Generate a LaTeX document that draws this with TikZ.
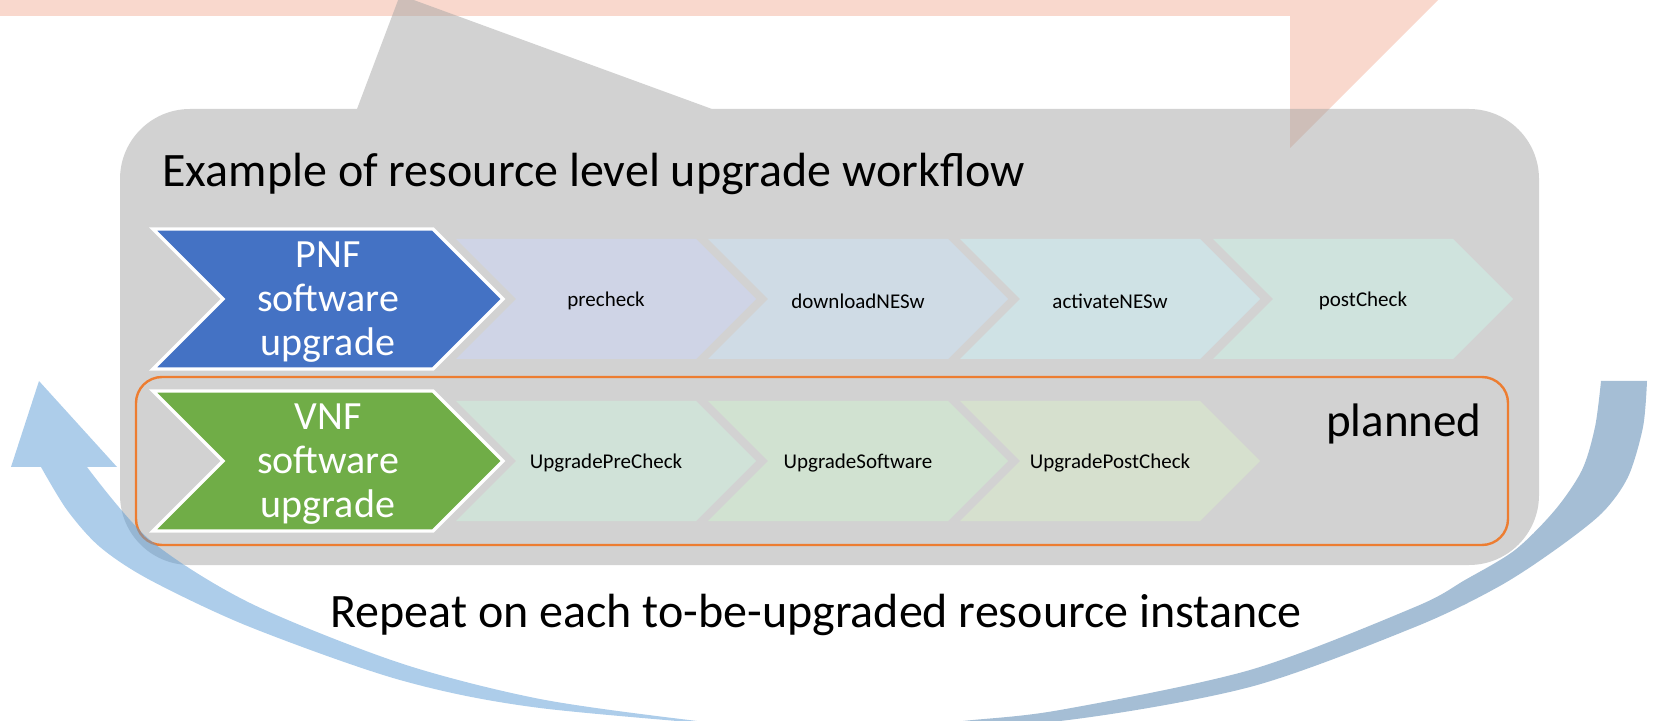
\documentclass[tikz,border=0pt]{standalone}
\usepackage{fontspec}
\setmainfont{Carlito}
\definecolor{salmon}{RGB}{249,216,205}
\definecolor{boxgray}{RGB}{165,165,165}
\definecolor{pnfblue}{RGB}{68,114,196}
\definecolor{vnfgreen}{RGB}{112,173,71}
\definecolor{planorange}{RGB}{237,125,49}
\definecolor{arcL}{RGB}{91,155,213}
\definecolor{arcR}{RGB}{75,125,171}
\definecolor{ca}{RGB}{207,212,230}
\definecolor{cb}{RGB}{207,219,229}
\definecolor{cc}{RGB}{207,226,229}
\definecolor{cd}{RGB}{207,227,221}
\definecolor{ga}{RGB}{208,226,216}
\definecolor{gb}{RGB}{209,226,209}
\definecolor{gc}{RGB}{214,224,206}
\begin{document}
\begin{tikzpicture}[x=0.5pt,y=-0.5pt,
  smallchev/.style={fill=#1},
  bigchev/.style={fill=#1, draw=white, line width=1.6pt, line join=miter},
  chevtext/.style={font=\fontsize{10.5}{12.6}\selectfont, text=black, inner sep=0pt},
  bigtext/.style={font=\fontsize{20}{22}\selectfont, text=white, align=center, inner sep=0pt},
  bigfont/.style={font=\fontsize{24}{28}\selectfont, text=black, inner sep=0pt},
  pics/schev/.style={code={\fill[smallchev=#1] (0,-60) -- (240,-60) -- (300,0) -- (240,60) -- (0,60) -- (60,0) -- cycle;}},
  pics/bchev/.style={code={\path[bigchev=#1] (0,-70) -- (280,-70) -- (350,0) -- (280,70) -- (0,70) -- (70,0) -- cycle;}}
]
\useasboundingbox (0,0) rectangle (1665,721);
\begin{scope}
\clip (0,0) rectangle (1665,721);
% salmon bent arrow at top
\fill[salmon] (0,-2) -- (1440,-2) -- (1290,148) -- (1290,16) -- (0,16) -- cycle;
% gray callout
\fill[boxgray, fill opacity=0.5] (120,179) arc[start angle=180,end angle=90,radius=35pt]
  -- (357,109) -- (400,-5) -- (712,109) -- (1469,109)
  arc[start angle=90,end angle=0,radius=35pt] -- (1539,495)
  arc[start angle=0,end angle=-90,radius=35pt] -- (190,565)
  arc[start angle=270,end angle=180,radius=35pt] -- cycle;
% row 1
\pic at (456,299) {schev=ca};
\pic at (708,299) {schev=cb};
\pic at (960,299) {schev=cc};
\pic at (1213,299) {schev=cd};
\pic at (153,299) {bchev=pnfblue};
% row 2
\pic at (456,461) {schev=ga};
\pic at (708,461) {schev=gb};
\pic at (960,461) {schev=gc};
\pic at (153,461) {bchev=vnfgreen};
% planned frame
\draw[planorange, line width=1.2pt, rounded corners=13pt] (136,377) rectangle (1508,545);
% circular arrows
\fill[arcL, fill opacity=0.5] (41,467) -- (11,467) -- (39,381) -- (117,467) -- (87,467)
  -- plot[smooth] coordinates {(87,467) (150,540) (250,603) (400,663) (540,699) (697,721) (800,731)}
  -- plot[smooth] coordinates {(800,731) (540,708) (400,680) (250,627) (150,580) (100,547) (67,510) (41,467)}
  -- cycle;
\fill[arcR, fill opacity=0.5] (1601,381) -- (1647,381)
  -- plot[smooth] coordinates {(1647,381) (1643,427) (1628,477) (1602,513) (1555,550) (1498,587) (1415,627) (1250,687) (1060,721) (870,731)}
  -- plot[smooth] coordinates {(870,731) (963,721) (1060,710) (1250,670) (1415,607) (1465,580) (1515,550) (1555,510) (1582,470) (1595,427) (1601,381)}
  -- cycle;
\end{scope}
% texts
\node[bigfont, anchor=base west] (title) at (162,187) {Example of resource level upgrade workflow};
\node[bigtext] (pnf) at (328,302) {PNF\\software\\upgrade};
\node[bigtext] (vnf) at (328,464) {VNF\\software\\upgrade};
\node[chevtext] (t1) at (606,301) {precheck};
\node[chevtext] (t2) at (858,301) {downloadNESw};
\node[chevtext] (t3) at (1110,301) {activateNESw};
\node[chevtext] (t4) at (1363,301) {postCheck};
\node[chevtext] (u1) at (606,463) {UpgradePreCheck};
\node[chevtext] (u2) at (858,463) {UpgradeSoftware};
\node[chevtext] (u3) at (1110,463) {UpgradePostCheck};
\node[font=\fontsize{23.5}{28}\selectfont, inner sep=0pt, anchor=base] (planned) at (1404,437) {planned};
\node[bigfont, anchor=base] (repeat) at (816,627) {Repeat on each to-be-upgraded resource instance};
\end{tikzpicture}
\end{document}
